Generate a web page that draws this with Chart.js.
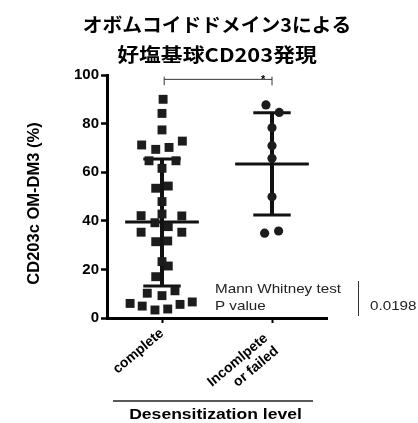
<!DOCTYPE html>
<html>
<head>
<meta charset="utf-8">
<script src="https://cdn.jsdelivr.net/npm/chart.js@4"></script>
<style>
  html, body { margin: 0; padding: 0; background: #fff; }
  #wrap { width: 418px; height: 423px; }
</style>
</head>
<body>
<div id="wrap"><canvas id="chart" width="418" height="423"></canvas></div>
<script>
const titleLines = ['オボムコイドドメイン3による', '好塩基球CD203発現'];
const tickLabels = [['complete'], ['Incomlpete  ', 'or failed  ']];
const yTicks = [0, 20, 40, 60, 80, 100];
const yTitle = 'CD203c OM-DM3 (%)';
const xTitle = 'Desensitization level';

// complete group: values and sideways spread of each square
const completeValues = [90.0, 84.2, 77.4, 71.2, 69.4, 70.2, 72.8, 64.7, 64.7, 61.6,
  53.4, 54.3, 47.9, 42.8, 42.1, 42.0, 39.2, 37.6, 35.3, 35.3,
  31.4, 31.7, 23.2, 21.4, 17.0, 10.2, 9.2, 11.2, 6.0, 4.9,
  3.3, 3.7, 5.6, 6.6];
const completeSpread = [0.01, 0, 0, -0.185, -0.057, 0.064, 0.185, -0.118, 0.127, 0,
  -0.057, 0.057, 0, 0, -0.19, 0.18, -0.064, 0.057, -0.19, 0.18,
  -0.057, 0.052, 0, 0.057, -0.057, -0.134, 0, 0.118, -0.29, -0.18,
  -0.064, 0.052, 0.164, 0.275];

// incomplete or failed group
const failedValues = [87.7, 84.6, 78.3, 70.9, 65.7, 49.9, 34.9, 35.8];
const failedSpread = [-0.055, 0.066, 0, 0, 0, 0, -0.067, 0.06];

// mean and SD bars as drawn
const groupMeans = [39.5, 63.4];
const groupSdHigh = [65.4, 84.5];
const groupSdLow = [13.2, 42.4];

const testLines = ['Mann Whitney test', 'P value'];
const pValue = '0.0198';

const ink = '#1c1c1c';
const sans = 'Arial, "Liberation Sans", sans-serif';

function seg(data, w) {
  return {
    type: 'line',
    data: data,
    showLine: true,
    borderColor: '#111',
    borderWidth: w,
    borderCapStyle: 'butt',
    pointRadius: 0,
    clip: false,
    order: 2
  };
}

const barSets = [];
groupMeans.forEach((m, i) => {
  const c = i + 1;
  barSets.push(seg([{x: c, y: groupSdLow[i]}, {x: c, y: groupSdHigh[i]}], 4));
  barSets.push(seg([{x: c - 0.335, y: m}, {x: c + 0.335, y: m}], 3));
  barSets.push(seg([{x: c - 0.17, y: groupSdHigh[i]}, {x: c + 0.17, y: groupSdHigh[i]}], 3));
  barSets.push(seg([{x: c - 0.17, y: groupSdLow[i]}, {x: c + 0.17, y: groupSdLow[i]}], 3));
});

const extras = {
  id: 'extras',
  afterDraw(chart) {
    const ctx = chart.ctx;
    const xs = chart.scales.x;
    const ys = chart.scales.y;
    const area = chart.chartArea;
    const cx = (area.left + area.right) / 2;

    ctx.save();
    ctx.fillStyle = '#000';
    ctx.strokeStyle = '#000';

    // title
    ctx.font = 'bold 19px "Noto Sans CJK JP"';
    ctx.textAlign = 'center';
    ctx.textBaseline = 'middle';
    titleLines.forEach((t, i) => {
      ctx.save();
      ctx.translate(cx, 25 + i * 30);
      ctx.scale(i ? 1.15 : 1.04, 1);
      ctx.fillText(t, 0, 0);
      ctx.restore();
    });

    // y title
    ctx.save();
    ctx.translate(39, 203.5);
    ctx.rotate(-Math.PI / 2);
    ctx.font = 'bold 16.5px ' + sans;
    ctx.textBaseline = 'alphabetic';
    ctx.fillText(yTitle, 0, 0);
    ctx.restore();

    // significance bracket
    const bx1 = xs.getPixelForValue(1.02);
    const bx2 = xs.getPixelForValue(2.0);
    const by = ys.getPixelForValue(98.2);
    ctx.lineWidth = 1;
    ctx.strokeStyle = '#333';
    ctx.beginPath();
    ctx.moveTo(bx1, ys.getPixelForValue(99.3));
    ctx.lineTo(bx1, ys.getPixelForValue(95.8));
    ctx.moveTo(bx1, by);
    ctx.lineTo(bx2, by);
    ctx.moveTo(bx2, ys.getPixelForValue(99.3));
    ctx.lineTo(bx2, ys.getPixelForValue(95.8));
    ctx.stroke();
    ctx.font = 'bold 11px ' + sans;
    ctx.fillText('*', xs.getPixelForValue(1.92), ys.getPixelForValue(97.9));

    // test result
    ctx.fillStyle = '#222';
    ctx.font = '13px ' + sans;
    ctx.textAlign = 'left';
    ctx.textBaseline = 'alphabetic';
    testLines.forEach((t, i) => {
      ctx.save();
      ctx.translate(215, 293 + i * 17);
      ctx.scale(1.17, 1);
      ctx.fillText(t, 0, 0);
      ctx.restore();
    });
    ctx.save();
    ctx.translate(370, 310);
    ctx.scale(1.17, 1);
    ctx.fillText(pValue, 0, 0);
    ctx.restore();
    ctx.beginPath();
    ctx.moveTo(358.5, 281);
    ctx.lineTo(358.5, 316);
    ctx.stroke();

    // x title with rule above
    ctx.strokeStyle = '#222';
    ctx.lineWidth = 1.5;
    ctx.beginPath();
    ctx.moveTo(113, 401);
    ctx.lineTo(313, 401);
    ctx.stroke();
    ctx.fillStyle = '#000';
    ctx.font = 'bold 15px ' + sans;
    ctx.textAlign = 'center';
    ctx.save();
    ctx.translate(215.5, 419);
    ctx.scale(1.17, 1);
    ctx.fillText(xTitle, 0, 0);
    ctx.restore();

    ctx.restore();
  }
};

new Chart(document.getElementById('chart'), {
  type: 'scatter',
  data: {
    datasets: [
      {
        data: completeValues.map((v, i) => ({x: 1 + completeSpread[i], y: v})),
        pointStyle: 'rect',
        pointRadius: 6.3,
        backgroundColor: ink,
        borderColor: ink,
        borderWidth: 0,
        clip: false,
        order: 1
      },
      {
        data: failedValues.map((v, i) => ({x: 2 + failedSpread[i], y: v})),
        pointStyle: 'circle',
        pointRadius: 4.6,
        backgroundColor: ink,
        borderColor: ink,
        borderWidth: 0,
        clip: false,
        order: 1
      }
    ].concat(barSets)
  },
  options: {
    responsive: false,
    animation: false,
    devicePixelRatio: 1,
    layout: {
      padding: {top: 75, right: 91, left: 0, bottom: 0}
    },
    plugins: {
      legend: {display: false},
      tooltip: {enabled: false}
    },
    scales: {
      x: {
        type: 'linear',
        min: 0.5,
        max: 2.5,
        afterBuildTicks: (s) => { s.ticks = [{value: 1}, {value: 2}]; },
        afterFit: (s) => { s.height = 105; },
        ticks: {
          callback: (v) => tickLabels[v - 1],
          color: '#000',
          font: {family: sans, size: 14, weight: 'bold'},
          minRotation: 40,
          maxRotation: 40,
          autoSkip: false,
          padding: 2
        },
        grid: {drawOnChartArea: false, tickLength: 5, tickWidth: 2, color: '#000'},
        border: {width: 3, color: '#000'}
      },
      y: {
        min: 0,
        max: 100,
        afterBuildTicks: (s) => { s.ticks = yTicks.map((v) => ({value: v})); },
        afterFit: (s) => { s.width = 107; },
        ticks: {
          color: '#000',
          font: {family: sans, size: 15, weight: 'bold'},
          padding: 2
        },
        grid: {drawOnChartArea: false, tickLength: 6, tickWidth: 2.5, color: '#000'},
        border: {width: 3, color: '#000'}
      }
    }
  },
  plugins: [extras]
});
</script>
</body>
</html>
